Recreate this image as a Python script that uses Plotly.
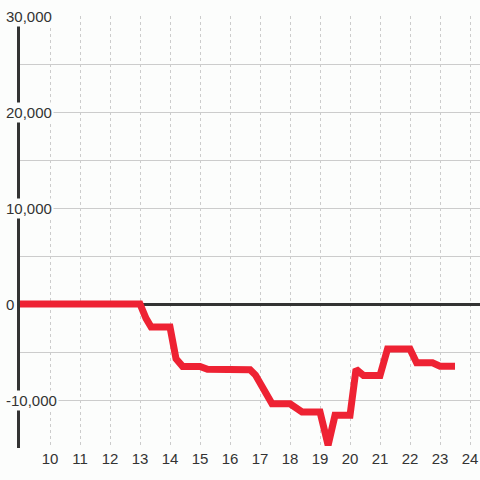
import plotly.graph_objects as go

# Data (hours of day vs. value)
hours = [9, 13.0, 13.2, 13.37, 14.0, 14.2, 14.42, 15.0, 15.25, 16.67, 16.85, 17.0,
         17.4, 18.0, 18.4, 19.0, 19.27, 19.5, 20.0, 20.2, 20.45, 21.0, 21.25, 22.0,
         22.22, 22.75, 23.0, 23.5]
values = [0, 0, -1500, -2400, -2400, -5700, -6500, -6500, -6800, -6850, -7400, -8300,
          -10400, -10400, -11250, -11250, -14700, -11600, -11600, -6800, -7450, -7450,
          -4700, -4700, -6130, -6130, -6480, -6480]

x_ticks = list(range(10, 25))
x_tick_labels = [str(v) for v in x_ticks]
y_ticks = [30000, 20000, 10000, 0, -10000]
y_tick_labels = ["30,000", "20,000", "10,000", "0", "-10,000"]

BG = "#fcfdfc"
RED = "#ee2233"
DARK = "#333333"
GRID = "#cccccc"
FONT = "Liberation Sans, Arial, sans-serif"

fig = go.Figure()
fig.add_trace(go.Scatter(
    x=hours, y=values, mode="lines",
    line=dict(color=RED, width=7),
    hoverinfo="skip", showlegend=False,
))

fig.update_layout(
    width=480, height=480,
    margin=dict(l=20, r=0, t=16, b=32),
    paper_bgcolor=BG, plot_bgcolor=BG,
    font=dict(family=FONT, size=15, color=DARK),
    showlegend=False,
    xaxis=dict(
        range=[9, 24.333],
        tickvals=x_ticks, ticktext=x_tick_labels,
        showgrid=True, gridcolor=GRID, gridwidth=1, griddash="3px,3px",
        zeroline=False, showline=False, ticks="",
        tickfont=dict(family=FONT, size=15, color=DARK),
        fixedrange=True,
    ),
    yaxis=dict(
        range=[-15000, 30000],
        tickvals=list(range(-15000, 30001, 5000)),
        showticklabels=False,
        showgrid=True, gridcolor=GRID, gridwidth=1,
        zeroline=True, zerolinecolor=DARK, zerolinewidth=3,
        showline=True, linecolor=DARK, linewidth=3,
        ticks="", fixedrange=True,
    ),
)

for v, t in zip(y_ticks, y_tick_labels):
    fig.add_annotation(
        x=0, xref="paper", xanchor="left", xshift=-16,
        y=v, yref="y", yanchor="middle",
        text=t, showarrow=False,
        font=dict(family=FONT, size=15, color=DARK),
        bgcolor=BG, borderpad=1,
    )

fig.write_html(
    "out.html",
    config={"displayModeBar": False, "staticPlot": True},
    post_script="document.body.style.margin='0';document.body.style.padding='0';document.body.style.overflow='hidden';",
)
